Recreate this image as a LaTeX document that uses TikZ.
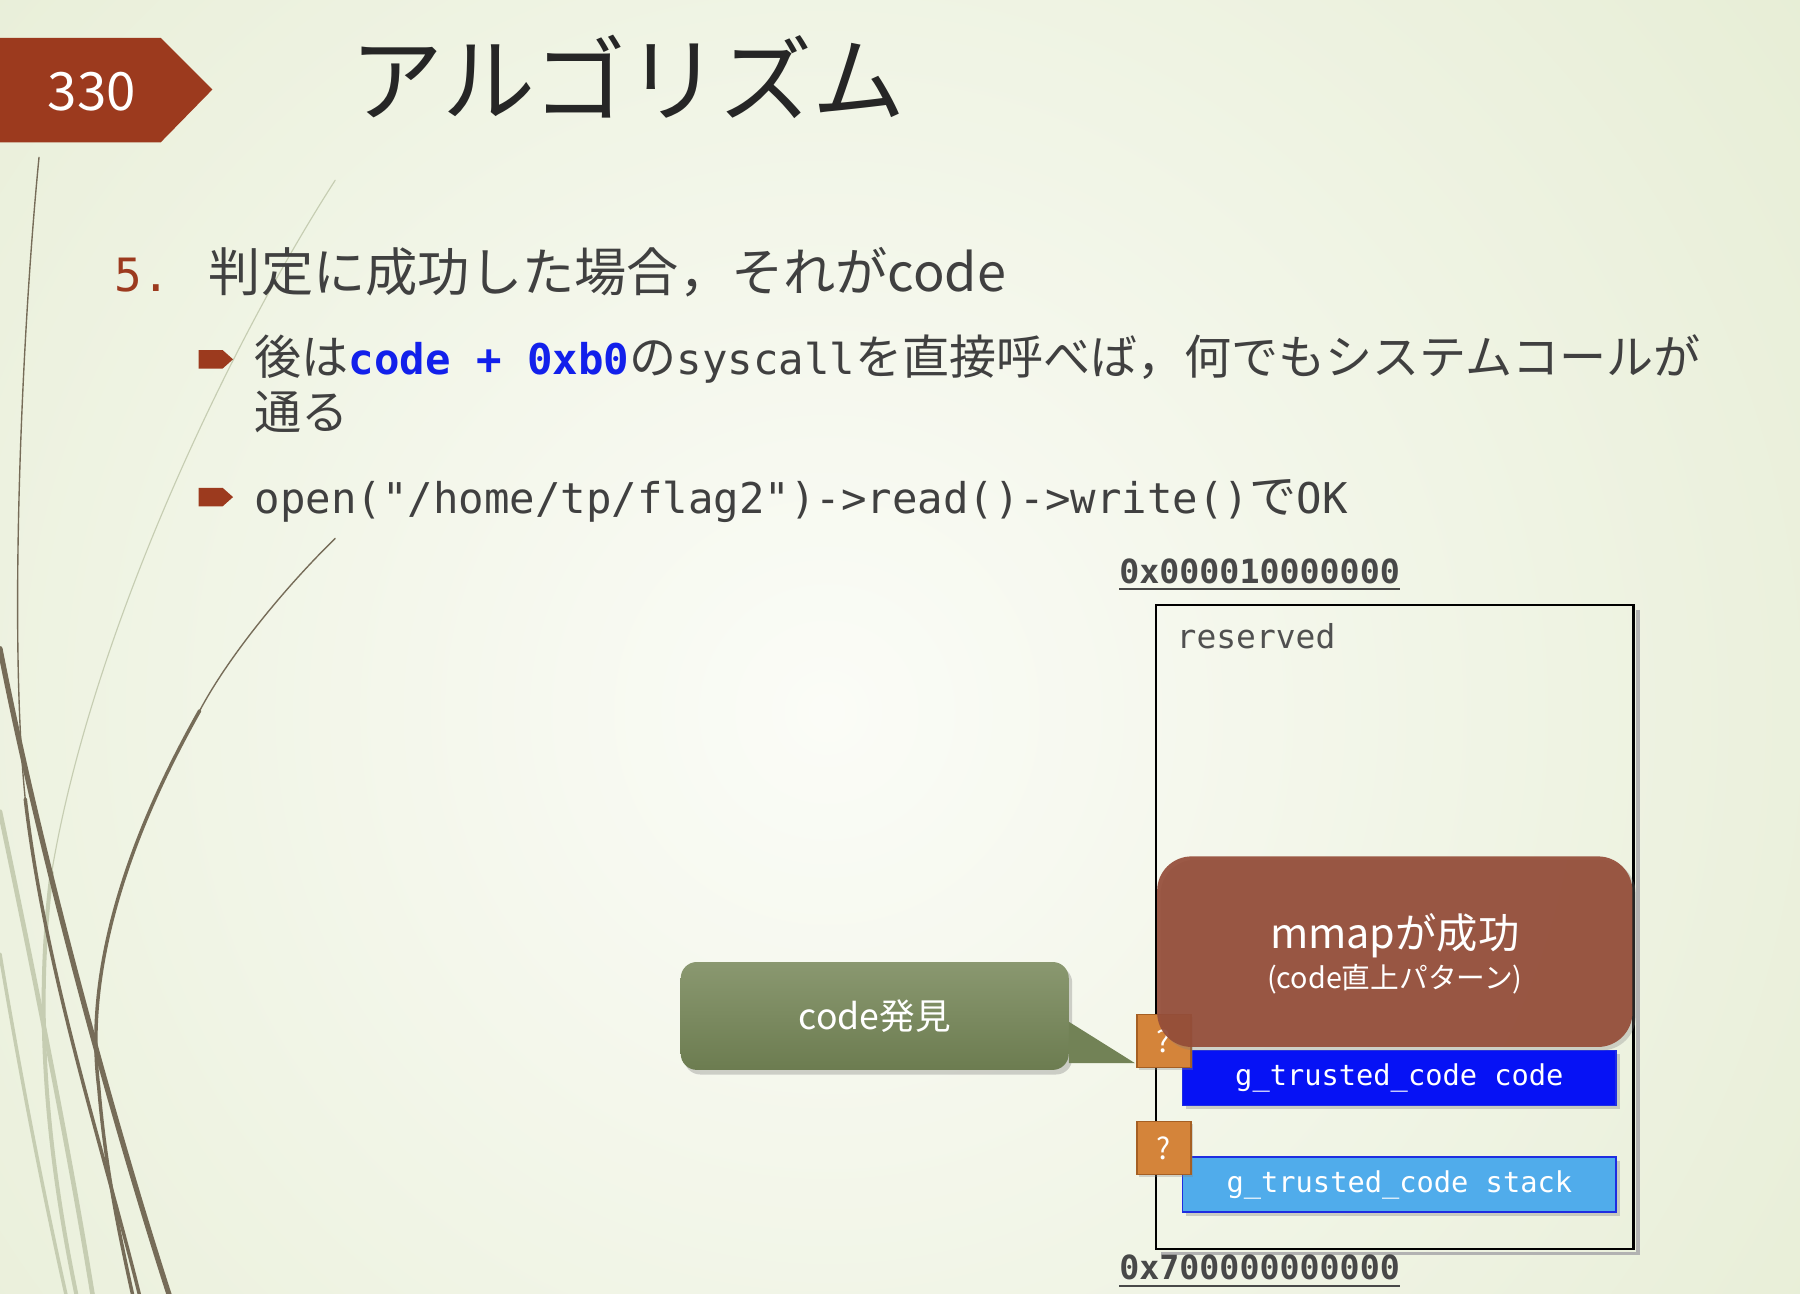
\documentclass[tikz,border=0pt]{standalone}
\usepackage{fontspec}
\setmainfont{Noto Sans CJK JP}
\setmonofont{DejaVu Sans Mono}
\usetikzlibrary{shadows,calc}

\definecolor{bgouter}{RGB}{219,229,194}
\definecolor{bginner}{RGB}{251,252,247}
\definecolor{badgered}{RGB}{156,58,30}
\definecolor{titlegray}{RGB}{38,38,38}
\definecolor{textgray}{RGB}{64,64,64}
\definecolor{addrgray}{RGB}{72,72,72}
\definecolor{resgray}{RGB}{80,80,80}
\definecolor{codeblue}{RGB}{18,32,235}
\definecolor{mmapbrown}{RGB}{148,76,56}
\definecolor{trustblue}{RGB}{6,18,245}
\definecolor{stackblue}{RGB}{80,172,235}
\definecolor{trustedge}{RGB}{30,45,225}
\definecolor{qorange}{RGB}{212,132,58}
\definecolor{qedge}{RGB}{165,95,35}
\definecolor{foundtop}{RGB}{138,152,112}
\definecolor{foundbottom}{RGB}{108,124,80}
\definecolor{stemdark}{RGB}{118,108,88}
\definecolor{stemlight}{RGB}{198,205,178}

\newcommand{\fsz}[1]{\fontsize{#1}{#1}\selectfont}

\begin{document}
\begin{tikzpicture}[x=1pt, y=-1pt,
	every node/.style={inner sep=0pt, outer sep=0pt},
	stem/.style={draw=stemdark, line cap=round},
	faintstem/.style={draw=stemlight, line cap=round},
	body/.style={anchor=base west, text=textgray},
	addr/.style={anchor=base west, text=addrgray, font=\ttfamily\bfseries\fsz{29}},
	segbox/.style={minimum width=378pt, minimum height=48pt, text=white, font=\ttfamily\fsz{25},
		draw=trustedge, line width=1.5pt, drop shadow={opacity=0.35, shadow xshift=3pt, shadow yshift=-3pt}},
	qbox/.style={minimum width=47pt, minimum height=46pt, fill=qorange, draw=qedge, line width=1.2pt,
		text=white, font=\fsz{26}, drop shadow={opacity=0.3, shadow xshift=2pt, shadow yshift=-2pt}},
	mmapbox/.style={minimum width=414pt, minimum height=166pt, rounded corners=30pt, fill=mmapbrown,
		fill opacity=0.92, drop shadow={opacity=0.3, shadow xshift=3pt, shadow yshift=-3pt}},
	found/.style={minimum width=338pt, minimum height=94pt, rounded corners=14pt, top color=foundtop,
		bottom color=foundbottom, text=white, font=\fsz{31}, drop shadow={opacity=0.35, shadow xshift=3pt, shadow yshift=-4pt}}]
	\useasboundingbox (0,0) rectangle (1568,1127);
	% background
	\fill[bgouter] (0,0) rectangle (1568,1127);
	\begin{scope}
		\clip (0,0) rectangle (1568,1127);
		\shade[inner color=bginner, outer color=bgouter] (720,620) circle[radius=1700pt];
		% stems on the left
		\draw[faintstem, line width=1pt] (292,157) .. controls (200,300) and (80,550) .. (45,760);
		\draw[faintstem, line width=3.5pt] (45,760) .. controls (30,880) and (40,1000) .. (67,1130);
		\draw[faintstem, line width=4pt] (0,707) .. controls (30,850) and (60,1000) .. (81,1130);
		\draw[faintstem, line width=3pt] (0,831) .. controls (20,950) and (40,1050) .. (58,1130);
		\draw[stem, line width=1.2pt] (34,137) .. controls (18,300) and (8,560) .. (22,696);
		\draw[stem, line width=3pt] (22,696) .. controls (40,850) and (90,1000) .. (122,1130);
		\draw[stem, line width=4.5pt] (0,565) .. controls (30,720) and (90,950) .. (148,1130);
		\draw[stem, line width=1.2pt] (292,469) .. controls (250,510) and (200,570) .. (174,619);
		\draw[stem, line width=3pt] (174,619) .. controls (100,750) and (75,860) .. (86,947) .. controls (92,1020) and (105,1080) .. (116,1130);
	\end{scope}
	% page number and title
	\fill[badgered] (0,33) -- (140,33) -- (185,78) -- (140,124) -- (0,124) -- cycle;
	\node[text=white, font=\fsz{46}] (pageno) at (80,80) {330};
	\node[anchor=base west, text=titlegray, font=\fsz{81}] (title) at (305,100) {アルゴリズム};
	% text
	\node[anchor=base west, text=badgered, font=\ttfamily\fsz{40}] (num) at (100,254) {5.};
	\node[body, font=\fsz{45.5}] (step) at (182,254) {判定に成功した場合，それがcode};
	\fill[badgered] (173,305) -- (194,305) -- (203,313) -- (194,321) -- (173,321) -- cycle;
	\fill[badgered] (173,425) -- (194,425) -- (203,433) -- (194,441) -- (173,441) -- cycle;
	\node[body, font=\fsz{41}] (syscall) at (222,326) {後は{\ttfamily\bfseries\fsz{36.9}\color{codeblue}code + 0xb0}の{\ttfamily\fsz{36.9}syscall}を直接呼べば，何でもシステムコールが};
	\node[body, font=\fsz{41}] (pass) at (222,374) {通る};
	\node[body, font=\fsz{41}] (chain) at (222,447) {{\ttfamily\fsz{36.9}open("/home/tp/flag2")->read()->write()}で{\ttfamily\fsz{36.9}OK}};
	% address space
	\node[addr] (top) at (975,508) {0x000010000000};
	\draw[addrgray, line width=2pt] ([yshift=-5pt]top.base west) -- ([yshift=-5pt]top.base east);
	\draw[black!30, line width=3pt] (1427,531) -- (1427,1092) -- (1011,1092);
	\draw[black, line width=2.4pt] (1007,527) rectangle (1423,1088);
	\node[anchor=base west, text=resgray, font=\ttfamily\fsz{28.7}] (reserved) at (1025,565) {reserved};
	\node[segbox, fill=trustblue] (code) at (1219,939) {g\_trusted\_code code};
	\node[segbox, fill=stackblue] (stack) at (1219,1032) {g\_trusted\_code stack};
	\node[qbox] (q1) at (1014,907) {?};
	\node[qbox] (q2) at (1014,1000) {?};
	\node[mmapbox] (mmap) at (1215,829) {};
	\node[text=white, font=\fsz{36}] (mmaptitle) at (1215,815) {mmapが成功};
	\node[text=white, font=\fsz{25}] (mmapnote) at (1215,853) {(code直上パターン)};
	\node[addr] (bottom) at (975,1115) {0x700000000000};
	\draw[addrgray, line width=2pt] ([yshift=-5pt]bottom.base west) -- ([yshift=-5pt]bottom.base east);
	% callout
	\node[found] (found) at (762,885) {code発見};
	\fill[foundbottom!80!foundtop] ([yshift=-5pt]found.east) -- ([shift={(-2pt,4pt)}]q1.south west) -- ([yshift=6pt]found.south east) -- cycle;
\end{tikzpicture}
\end{document}
